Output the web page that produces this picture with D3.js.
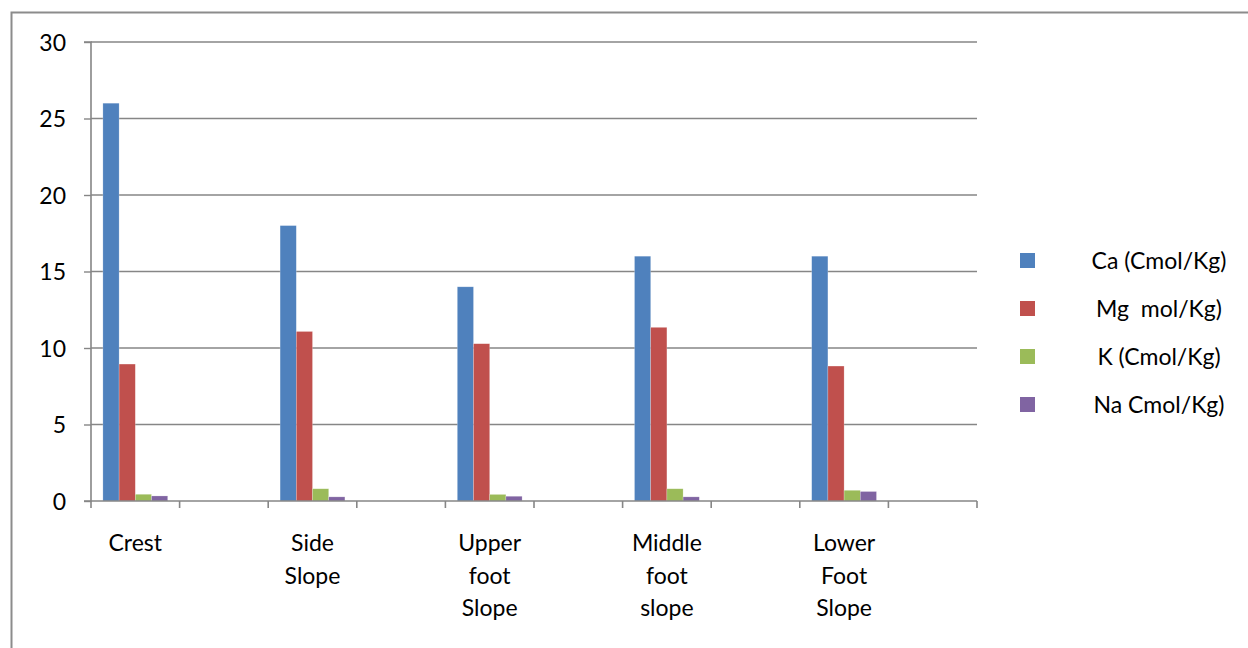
<!DOCTYPE html>
<html>
<head>
<meta charset="utf-8">
<script src="https://cdn.jsdelivr.net/npm/d3@7/dist/d3.min.js"></script>
<style>
  html, body { margin: 0; padding: 0; background: #fff; }
  svg { display: block; }
  text { font-family: Lato, "Open Sans", "Liberation Sans", sans-serif; fill: #000; }
</style>
</head>
<body>
<svg id="chart" width="1248" height="648"></svg>
<script>
// Slope positions; blank slots keep the empty gap between groups
const categories = ["Crest", "", "Side\nSlope", " ", "Upper\nfoot\nSlope", "  ", "Middle\nfoot\nslope", "   ", "Lower\nFoot\nSlope", "    "];
const seriesNames = ["Ca (Cmol/Kg)", "Mg  mol/Kg)", "K (Cmol/Kg)", "Na Cmol/Kg)"];
const seriesColors = ["#4F81BD", "#C0504D", "#9BBB59", "#8064A2"];
const caValues = [26, 18, 14, 16, 16];
const mgValues = [8.95, 11.08, 10.28, 11.35, 8.82];
const kValues  = [0.44, 0.8, 0.43, 0.8, 0.7];
const naValues = [0.33, 0.27, 0.31, 0.27, 0.62];
const yTicks = [0, 5, 10, 15, 20, 25, 30];

const seriesValues = [caValues, mgValues, kValues, naValues];
const slopeCats = categories.filter(c => c.trim() !== "");
const fontSize = 23;

const svg = d3.select("#chart");
const gridColor = "#868686";

// outer chart frame (runs off the right and bottom edges)
svg.append("path")
  .attr("d", "M11.5,660 V12.5 H1260")
  .attr("fill", "none").attr("stroke", "#8c8c8c").attr("stroke-width", 2);

const margin = { left: 91, right: 977, top: 42, bottom: 501 };

const x = d3.scaleBand().domain(categories).range([margin.left, margin.right]).paddingInner(0).paddingOuter(0);
const y = d3.scaleLinear().domain([0, 30]).range([margin.bottom, margin.top]);
const xs = d3.scaleBand().domain(seriesNames).range([0, x.bandwidth()]).paddingInner(0).paddingOuter(0.735);

// horizontal gridlines
svg.append("g").selectAll("line").data(yTicks.filter(t => t > 0)).join("line")
  .attr("x1", margin.left).attr("x2", margin.right)
  .attr("y1", d => y(d)).attr("y2", d => y(d))
  .attr("stroke", gridColor).attr("stroke-width", 1.4);

// bars
const rows = slopeCats.map((c, i) => ({ cat: c, vals: seriesValues.map(s => s[i]) }));
const groups = svg.append("g").selectAll("g").data(rows).join("g")
  .attr("transform", d => `translate(${x(d.cat)},0)`);
groups.selectAll("rect").data(d => d.vals.map((v, j) => ({ v, name: seriesNames[j], color: seriesColors[j] })))
  .join("rect")
  .attr("x", d => xs(d.name))
  .attr("width", xs.bandwidth())
  .attr("y", d => y(d.v))
  .attr("height", d => y(0) - y(d.v))
  .attr("fill", d => d.color)
  .attr("stroke", "rgba(255,255,255,0.35)").attr("stroke-width", 0.6);

// y axis
const yAxis = svg.append("g").attr("transform", `translate(${margin.left},0)`)
  .call(d3.axisLeft(y).tickValues(yTicks).tickSize(7).tickPadding(18).tickFormat(d3.format("d")));
yAxis.select(".domain").attr("stroke", gridColor).attr("stroke-width", 1.6).attr("d", `M-7,${margin.top}H0V${margin.bottom}H-7`);
yAxis.selectAll(".tick line").attr("stroke", gridColor).attr("stroke-width", 1.4);
yAxis.selectAll(".tick text").attr("font-size", fontSize).style("font-family", "Lato, 'Open Sans', sans-serif").attr("fill", "#000").attr("dy", "0.35em");

// x axis
const xAxis = svg.append("g").attr("transform", `translate(0,${margin.bottom})`)
  .call(d3.axisBottom(x).tickSize(0).tickFormat(""));
xAxis.select(".domain").attr("stroke", gridColor).attr("stroke-width", 1.6).attr("d", `M${margin.left},0H${margin.right}`);
const boundaries = categories.map(c => x(c)).concat([margin.right]);
xAxis.append("g").selectAll("line").data(boundaries).join("line")
  .attr("x1", d => d).attr("x2", d => d).attr("y1", 0).attr("y2", 7)
  .attr("stroke", gridColor).attr("stroke-width", 1.6);

// category labels (multi-line)
const labels = svg.append("g").selectAll("text").data(slopeCats).join("text")
  .attr("text-anchor", "middle").attr("font-size", fontSize)
  .attr("x", d => x(d) + x.bandwidth() / 2)
  .attr("y", 551);
labels.selectAll("tspan").data(d => d.split("\n")).join("tspan")
  .attr("x", function () { return d3.select(this.parentNode).attr("x"); })
  .attr("dy", (d, i) => i === 0 ? 0 : 32.5)
  .text(d => d);

// legend
const legend = svg.append("g").selectAll("g").data(seriesNames).join("g")
  .attr("transform", (d, i) => `translate(1020,${253 + i * 48})`);
legend.append("rect").attr("width", 15).attr("height", 15)
  .attr("fill", (d, i) => seriesColors[i]);
legend.append("text").attr("x", 139).attr("y", 16).attr("text-anchor", "middle")
  .attr("font-size", fontSize).style("white-space", "pre").text(d => d);
</script>
</body>
</html>
